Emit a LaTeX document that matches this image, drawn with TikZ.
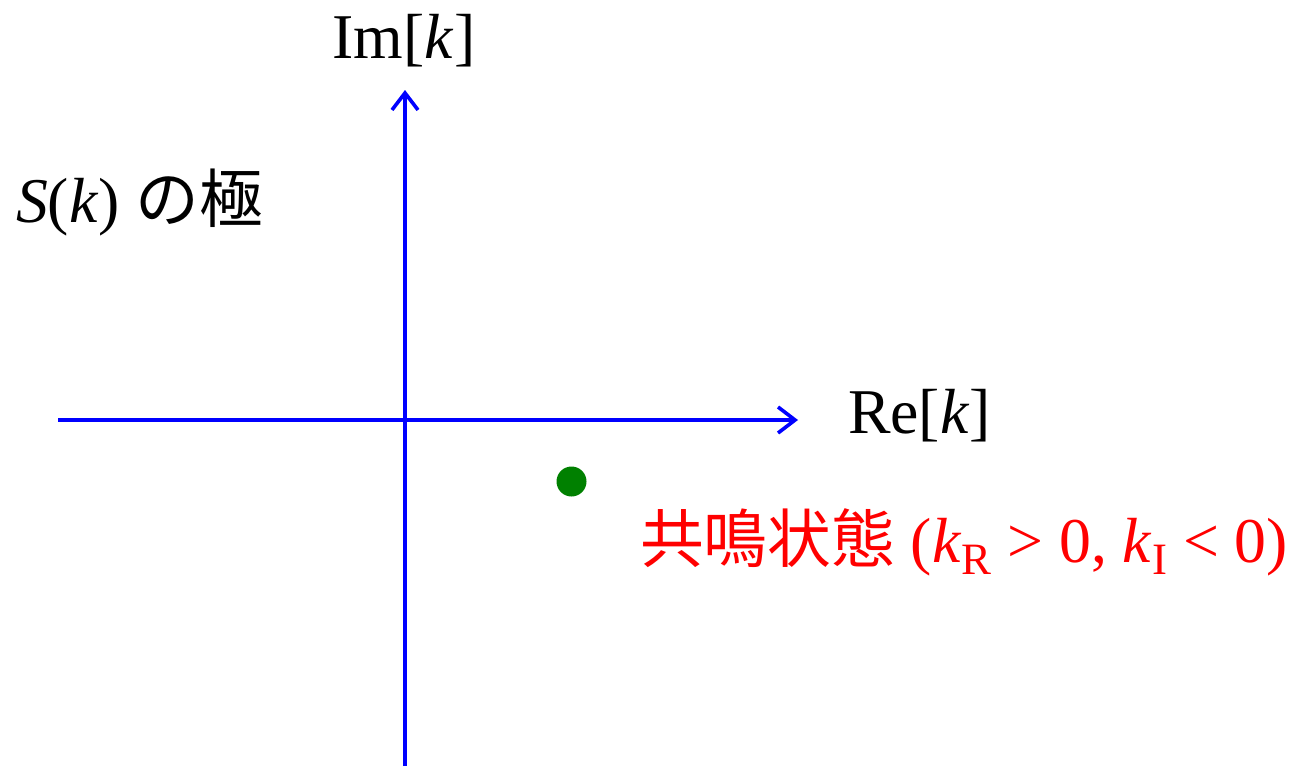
\documentclass[tikz,border=0pt]{standalone}
\usepackage{fontspec}
\setmainfont{Liberation Serif}
\newfontfamily\cjk{Noto Sans CJK JP}
\usetikzlibrary{arrows.meta}
\definecolor{axisblue}{RGB}{0,0,255}
\definecolor{dotgreen}{RGB}{0,128,0}
\definecolor{txtred}{RGB}{255,0,0}
\newcommand\subtxt[1]{\raisebox{-12bp}{\fontsize{45}{45}\selectfont #1}}
\begin{document}
\begin{tikzpicture}[x=1bp,y=-1bp,
  axis/.style={draw=axisblue, line width=3.6bp, -{Straight Barb[length=17bp,width=26bp]}},
  lbl/.style={font=\fontsize{64}{76}\selectfont, inner sep=0pt, outer sep=0pt},
  pole/.style={circle, fill=dotgreen, minimum size=30bp, inner sep=0pt}]
\useasboundingbox (0,0) rectangle (1299,766);
\coordinate (xs) at (58,420);
\coordinate (xe) at (798,420);
\coordinate (ys) at (405,766);
\coordinate (ye) at (405,90);
\draw[axis] (xs) -- (xe);
\draw[axis] (ys) -- (ye);
\node[lbl, anchor=base] (im) at (404,59) {Im[\textit{k}]};
\node[lbl, anchor=base west] (re) at (848,433) {Re[\textit{k}]};
\node[lbl, anchor=base west] (sk) at (16,222) {\textit{S}(\textit{k}) {\cjk の極}};
\node[pole] (p) at (571.5,481.5) {};
\node[lbl, text=txtred, anchor=base west] (res) at (640,562) {{\cjk 共鳴状態} (\textit{k}\subtxt{R}\hspace{0.25em}>\hspace{0.25em}0, \textit{k}\subtxt{I}\hspace{0.25em}<\hspace{0.25em}0)};
\end{tikzpicture}
\end{document}
